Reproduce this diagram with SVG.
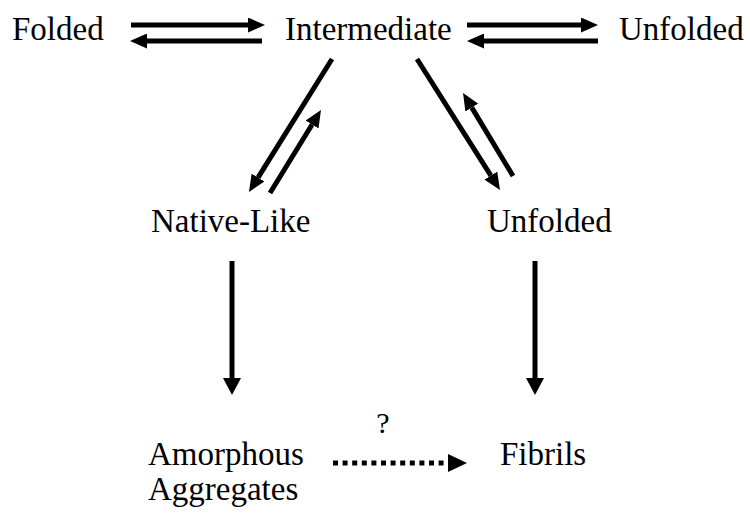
<svg xmlns="http://www.w3.org/2000/svg" width="750" height="513" viewBox="0 0 750 513">
<style>
.t{font-family:'Liberation Serif','Times New Roman','DejaVu Serif',serif;font-size:33px;fill:#000}
.c line{stroke:#000;stroke-width:5;fill:none}
.a{marker-end:url(#h)}
.v{marker-end:url(#hv)}
</style>
<defs>
<marker id="h" viewBox="0 0 17 15" markerWidth="17" markerHeight="15" markerUnits="userSpaceOnUse" refX="0" refY="7.5" orient="auto"><path d="M0,0 L17,7.5 L0,15 z" fill="#000"/></marker>
<marker id="hv" viewBox="0 0 17 18" markerWidth="17" markerHeight="18" markerUnits="userSpaceOnUse" refX="0" refY="9" orient="auto"><path d="M0,0 L17,9 L0,18 z" fill="#000"/></marker>
<marker id="hd" viewBox="0 0 19 18" markerWidth="19" markerHeight="18" markerUnits="userSpaceOnUse" refX="0" refY="9" orient="auto"><path d="M0,0 L19,9 L0,18 z" fill="#000"/></marker>
</defs>
<rect width="750" height="513" fill="#fff"/>
<g class="t" font-family="Liberation Serif, serif">
<g id="folded"><text x="12" y="40">Folded</text></g>
<g id="intermediate"><text x="285" y="40">Intermediate</text></g>
<g id="unfolded-top"><text x="619" y="40">Unfolded</text></g>
<g id="native-like"><text x="151" y="232">Native-Like</text></g>
<g id="unfolded"><text x="487" y="232">Unfolded</text></g>
<g id="amorphous"><text x="148" y="465">Amorphous</text><text x="148" y="500">Aggregates</text></g>
<g id="fibrils"><text x="500" y="465">Fibrils</text></g>
</g>
<g id="connectors" class="c">
<line class="a" x1="131" y1="25" x2="248" y2="25"/>
<line class="a" x1="262" y1="41" x2="147" y2="41"/>
<line class="a" x1="467" y1="25" x2="581" y2="25"/>
<line class="a" x1="598" y1="41" x2="484" y2="41"/>
<line class="a" x1="332" y1="59" x2="258" y2="177.6"/>
<line class="a" x1="270" y1="193" x2="312.1" y2="124.5"/>
<line class="a" x1="417" y1="59" x2="490.9" y2="175.6"/>
<line class="a" x1="513" y1="176" x2="471.8" y2="107.6"/>
<line class="v" x1="232" y1="261" x2="232" y2="378"/>
<line class="v" x1="535" y1="261" x2="535" y2="378"/>
<line x1="333" y1="463" x2="448" y2="463" stroke-dasharray="5 4.6" style="marker-end:url(#hd)"/>
<text class="t" x="383" y="433" text-anchor="middle" style="font-size:30px">?</text>
</g>
</svg>
